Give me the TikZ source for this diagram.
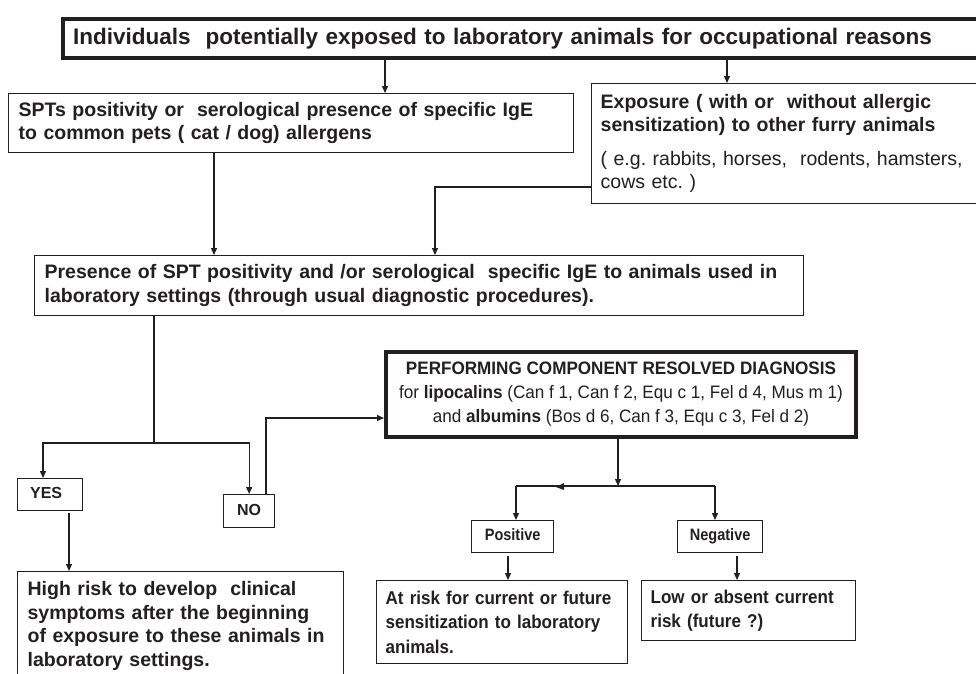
\documentclass[tikz,border=0pt]{standalone}
\usepackage{fontspec}
\setmainfont{Liberation Sans}
\newfontfamily\narrowfont{Liberation Sans}[FakeStretch=0.95]
\newfontfamily\condfont{Liberation Sans}[FakeStretch=0.92]
\newfontfamily\tightfont{Liberation Sans}[FakeStretch=0.88]
\usetikzlibrary{arrows.meta}
\definecolor{ink}{HTML}{231F20}
\hyphenpenalty=10000
\exhyphenpenalty=10000
\frenchspacing
\tikzset{
  box/.style={draw=ink, line width=1.3pt, anchor=north west, inner xsep=10pt, inner ysep=0pt,
    align=left, text=ink, font=\bfseries\fontsize{19.5}{23.5}\selectfont},
  thickbox/.style={box, line width=4pt},
  smallbox/.style={draw=ink, line width=1.3pt, anchor=north west, inner sep=0pt, align=center,
    text=ink, text height=11.5pt, text depth=3.5pt, font=\bfseries\fontsize{16}{18}\selectfont},
  arr/.style={draw=ink, line width=1.3pt, -{Triangle[length=7pt,width=6pt]}},
  conn/.style={draw=ink, line width=1.3pt},
}
\begin{document}
\begin{tikzpicture}[x=1pt,y=-1pt]
\useasboundingbox (0,0) rectangle (976,673);
\clip (0,0) rectangle (976,673);
\fill[white] (0,0) rectangle (976,673);

% boxes
\node[thickbox, minimum width=940pt, minimum height=39pt, text width=920pt,
  font=\bfseries\fontsize{22.5}{27}\selectfont] (top) at (61,17)
  {Individuals\ \ potentially exposed to laboratory animals for occupational reasons};

\node[box, minimum width=565pt, minimum height=59pt, text width=545pt] (spt) at (8,93)
  {SPTs positivity or\ \ serological presence of specific IgE\\to common pets ( cat / dog) allergens};

\node[box, minimum width=400pt, minimum height=120pt, text width=382pt, inner xsep=9pt] (exp) at (591,83)
  {Exposure ( with or\ \ without allergic\\sensitization) to other furry animals\\[10pt]\mdseries
   ( e.g. rabbits, horses,\ \ rodents, hamsters,\\cows etc. )};

\node[box, minimum width=769pt, minimum height=60pt, text width=749pt] (pres) at (34,255)
  {Presence of SPT positivity and /or serological\ \ specific IgE to animals used in\\laboratory settings (through usual diagnostic procedures).};

\node[smallbox, minimum width=65pt, minimum height=32pt] (yes) at (17,478) {YES\hspace*{8pt}};
\node[smallbox, minimum width=51pt, minimum height=33pt] (no) at (223,494) {NO};

\node[thickbox, minimum width=470pt, minimum height=85pt, inner xsep=0pt, align=center,
  font=\narrowfont\fontsize{18}{24}\selectfont] (crd) at (384,350)
  {\textbf{PERFORMING COMPONENT RESOLVED DIAGNOSIS}\\
   for \textbf{lipocalins} (Can f 1, Can f 2, Equ c 1, Fel d 4, Mus m 1)\\
   and \textbf{albumins} (Bos d 6, Can f 3, Equ c 3, Fel d 2)};

\node[smallbox, minimum width=82pt, minimum height=32pt, font=\tightfont\bfseries\fontsize{16.5}{18}\selectfont] (pos) at (471,520) {Positive};
\node[smallbox, minimum width=85pt, minimum height=32pt, font=\tightfont\bfseries\fontsize{16.5}{18}\selectfont] (neg) at (677,520) {Negative};

\node[box, minimum width=326pt, minimum height=109pt, text width=306pt] (high) at (17,571)
  {High risk to develop\ \ clinical\\symptoms after the beginning\\of exposure to these animals in\\laboratory settings.};

\node[box, minimum width=251pt, minimum height=83pt, text width=233pt, inner xsep=9pt,
  font=\condfont\bfseries\fontsize{18.5}{24.5}\selectfont] (atrisk) at (376,580)
  {At risk for current or future\\sensitization to laboratory\\animals.};

\node[box, minimum width=214pt, minimum height=60pt, text width=196pt, inner xsep=9pt,
  font=\condfont\bfseries\fontsize{18.5}{24.5}\selectfont] (low) at (641,580)
  {Low or absent current\\risk (future ?)};

% connectors
\coordinate (a1) at (385,0);
\coordinate (a2) at (727,0);
\coordinate (a3) at (214,0);
\coordinate (a4) at (435,187);
\coordinate (sp) at (154,443);
\coordinate (ay) at (43,0);
\coordinate (ay2) at (69,0);
\coordinate (an) at (266,418);
\coordinate (sp2) at (618,486);
\coordinate (pl) at (516,486);
\coordinate (nr) at (715,486);
\coordinate (pa) at (508,0);
\coordinate (na) at (737,0);

\draw[arr] (top.south -| a1) -- (spt.north -| a1);
\draw[arr] (top.south -| a2) -- (exp.north -| a2);
\draw[arr] (spt.south -| a3) -- (pres.north -| a3);
\draw[arr] (exp.west |- a4) -- (a4) -- (pres.north -| a4);
\draw[conn] (pres.south -| sp) -- (sp);
\draw[arr] (sp) -| (yes.north -| ay);
\draw[arr] (sp) -| (no.north);
\draw[arr, shorten <=2pt] (yes.south -| ay2) -- (high.north -| ay2);
\draw[arr] (no.north -| an) -- (an) -- (crd.west |- an);
\draw[arr] (crd.south -| sp2) -- (sp2);
\draw[conn] (pl) -- (nr);
\draw[arr] (pl) -- (pos.north -| pl);
\draw[arr] (nr) -- (neg.north -| nr);
\draw[arr, shorten <=3pt] (pos.south -| pa) -- (atrisk.north -| pa);
\draw[arr, shorten <=3pt] (neg.south -| na) -- (low.north -| na);
\fill[ink] (556,487) -- (564,483) -- (564,490) -- cycle;
\end{tikzpicture}
\end{document}
